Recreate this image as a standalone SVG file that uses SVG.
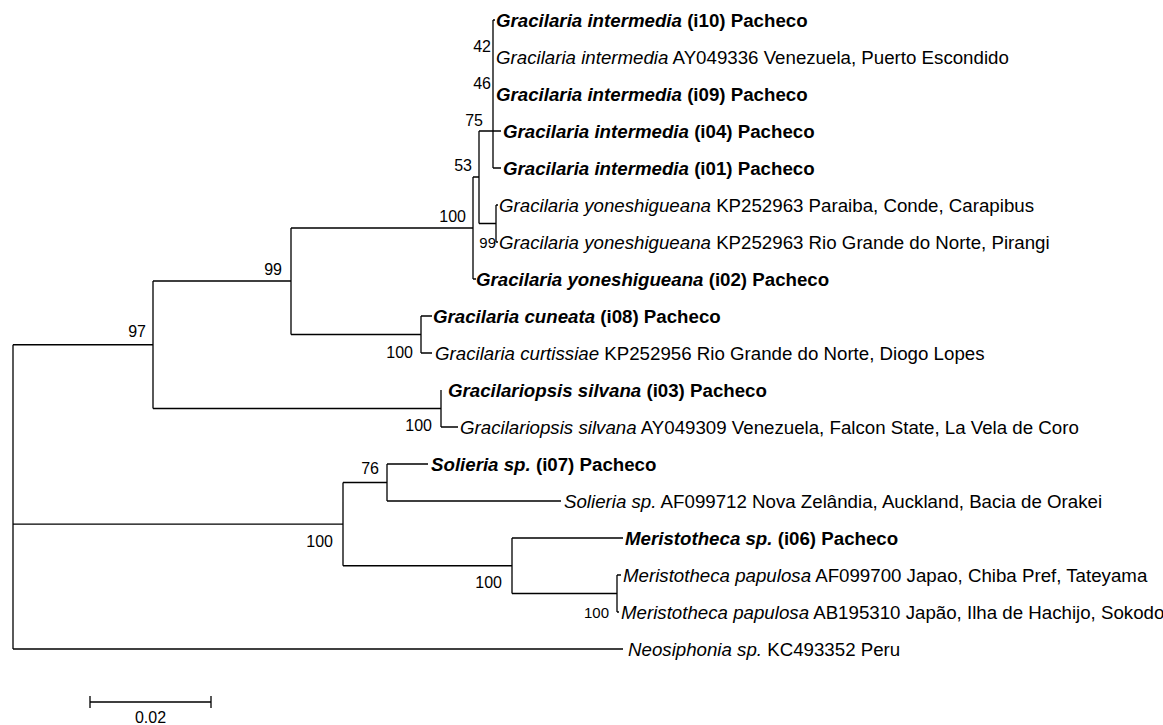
<svg xmlns="http://www.w3.org/2000/svg" width="1163" height="725" viewBox="0 0 1163 725">
<style>
text{font-family:"Liberation Sans",Arial,sans-serif;fill:#000}
.t{font-size:18.7px}
.b{font-weight:bold}
.i{font-style:italic}
.bs{font-size:16px;text-anchor:end}
.bs2{font-size:15px;text-anchor:end}
#connectors path{fill:none;stroke:#000;stroke-width:1.3}
</style>
<rect width="1163" height="725" fill="#fff"/>
<g id="connectors">
<path d="M13 344.75V649"/>
<path d="M13 344.75H153M153 281V408.5M153 281H291M291 228V334.5M291 228H473M473 177V279M473 279H476"/>
<path d="M473 177H479M479 131V223.5M479 131H501M493 20V168M493 168H501M493 20H495"/>
<path d="M479 223.5H496M496 205V242M496 205H498M496 242H498"/>
<path d="M291 334.5H421M421 316V353M421 316H432M421 353H432"/>
<path d="M153 408.5H441M441 390V427M441 427H458"/>
<path d="M13 524.1H343M343 482.5V565.75M343 482.5H387M387 464V501M387 464H428M387 501H561"/>
<path d="M343 565.75H512M512 538V593.5M512 538H623M512 593.5H617M617 575V612M617 575H621M617 612H619"/>
<path d="M13 649H623"/>
<path d="M90 702H211M90 696V708M211 696V708"/>
</g>
<g id="bootstrap">
<text class="bs" x="491" y="52">42</text>
<text class="bs" x="491" y="89">46</text>
<text class="bs" x="483" y="126">75</text>
<text class="bs" x="472" y="171">53</text>
<text class="bs" x="466" y="222">100</text>
<text class="bs2" x="496" y="247.5">99</text>
<text class="bs" x="282" y="275">99</text>
<text class="bs" x="413" y="358">100</text>
<text class="bs" x="146" y="337">97</text>
<text class="bs" x="432" y="431">100</text>
<text class="bs" x="379" y="474">76</text>
<text class="bs" x="333" y="547">100</text>
<text class="bs" x="502" y="588">100</text>
<text class="bs2" x="609" y="617.5">100</text>
</g>
<g id="n_i10"><text class="t b" x="496" y="26.5"><tspan class="i">Gracilaria intermedia</tspan> (i10) Pacheco</text></g>
<g id="n_AY049336"><text class="t" x="496" y="63.5"><tspan class="i">Gracilaria intermedia</tspan> AY049336 Venezuela, Puerto Escondido</text></g>
<g id="n_i09"><text class="t b" x="496" y="100.5"><tspan class="i">Gracilaria intermedia</tspan> (i09) Pacheco</text></g>
<g id="n_i04"><text class="t b" x="503" y="137.5"><tspan class="i">Gracilaria intermedia</tspan> (i04) Pacheco</text></g>
<g id="n_i01"><text class="t b" x="503" y="174.5"><tspan class="i">Gracilaria intermedia</tspan> (i01) Pacheco</text></g>
<g id="n_KP252963a"><text class="t" x="499" y="211.5"><tspan class="i">Gracilaria yoneshigueana</tspan> KP252963 Paraiba, Conde, Carapibus</text></g>
<g id="n_KP252963b"><text class="t" x="499" y="248.5"><tspan class="i">Gracilaria yoneshigueana</tspan> KP252963 Rio Grande do Norte, Pirangi</text></g>
<g id="n_i02"><text class="t b" x="476" y="285.5"><tspan class="i">Gracilaria yoneshigueana</tspan> (i02) Pacheco</text></g>
<g id="n_i08"><text class="t b" x="433" y="322.5"><tspan class="i">Gracilaria cuneata</tspan> (i08) Pacheco</text></g>
<g id="n_KP252956"><text class="t" x="435" y="359.5"><tspan class="i">Gracilaria curtissiae</tspan> KP252956 Rio Grande do Norte, Diogo Lopes</text></g>
<g id="n_i03"><text class="t b" x="448" y="396.5"><tspan class="i">Gracilariopsis silvana</tspan> (i03) Pacheco</text></g>
<g id="n_AY049309"><text class="t" x="460" y="433.5"><tspan class="i">Gracilariopsis silvana</tspan> AY049309 Venezuela, Falcon State, La Vela de Coro</text></g>
<g id="n_i07"><text class="t b" x="431" y="470.5"><tspan class="i">Solieria sp.</tspan> (i07) Pacheco</text></g>
<g id="n_AF099712"><text class="t" x="564" y="507.5"><tspan class="i">Solieria sp.</tspan> AF099712 Nova Zelândia, Auckland, Bacia de Orakei</text></g>
<g id="n_i06"><text class="t b" x="625" y="544.5"><tspan class="i">Meristotheca sp.</tspan> (i06) Pacheco</text></g>
<g id="n_AF099700"><text class="t" x="623" y="581.5"><tspan class="i">Meristotheca papulosa</tspan> AF099700 Japao, Chiba Pref, Tateyama</text></g>
<g id="n_AB195310"><text class="t" x="621" y="618.5"><tspan class="i">Meristotheca papulosa</tspan> AB195310 Japão, Ilha de Hachijo, Sokodo</text></g>
<g id="n_KC493352"><text class="t" x="628" y="655.5"><tspan class="i">Neosiphonia sp.</tspan> KC493352 Peru</text></g>
<g id="scale"><text x="150.5" y="723" font-size="16px" text-anchor="middle">0.02</text></g>
</svg>
